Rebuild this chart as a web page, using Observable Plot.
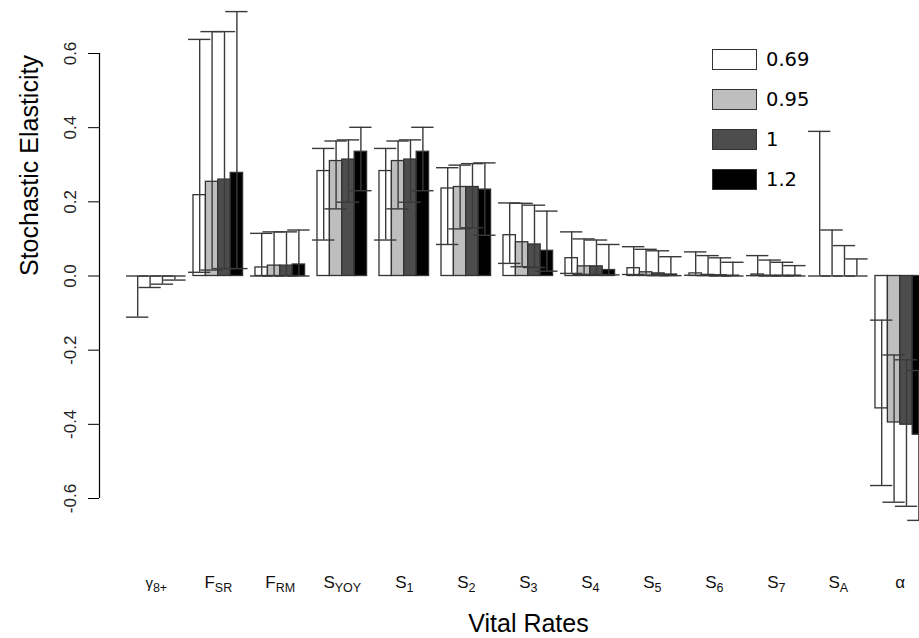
<!DOCTYPE html>
<html><head><meta charset="utf-8">
<script src="https://cdn.jsdelivr.net/npm/d3@7"></script>
<script src="https://cdn.jsdelivr.net/npm/@observablehq/plot@0.6"></script>
<style>
html,body{margin:0;padding:0;background:#fff;overflow:hidden;}
#wrap{position:relative;width:919px;height:638px;}
#wrap svg{display:block;}
.legend{position:absolute;left:712px;top:49px;font-family:"DejaVu Sans",Verdana,sans-serif;font-size:19.5px;color:#000;}
.legend .row{position:relative;height:40px;width:110px;}
.legend .sw{position:absolute;left:0;top:0;width:43px;height:19px;border:1px solid #333;box-sizing:content-box;}
.legend .lab{position:absolute;left:54px;top:1px;line-height:20px;white-space:nowrap;}
</style></head><body><div id="wrap"></div>
<script>
// Categories (main symbol + subscript)
const catMain = ["γ","F","F","S","S","S","S","S","S","S","S","S","α"];
const catSub  = ["8+","SR","RM","YOY","1","2","3","4","5","6","7","A",""];
// Series (legend labels)
const seriesNames = ["0.69","0.95","1","1.2"];
// Bar values per series
const val069 = [0.000, 0.218, 0.023, 0.283, 0.283, 0.236, 0.110, 0.048, 0.021, 0.007, 0.004, 0.000, -0.357];
const val095 = [0.000, 0.254, 0.028, 0.310, 0.310, 0.240, 0.091, 0.026, 0.010, 0.003, 0.001, 0.000, -0.395];
const val100 = [0.000, 0.260, 0.028, 0.314, 0.314, 0.240, 0.085, 0.026, 0.007, 0.002, 0.001, 0.000, -0.401];
const val120 = [0.000, 0.278, 0.031, 0.335, 0.335, 0.233, 0.068, 0.016, 0.004, 0.001, 0.001, 0.000, -0.428];
// Upper error limits
const hi069 = [0.000, 0.638, 0.115, 0.344, 0.344, 0.292, 0.197, 0.119, 0.079, 0.065, 0.055, 0.390, -0.119];
const hi095 = [0.000, 0.659, 0.119, 0.364, 0.364, 0.299, 0.196, 0.100, 0.072, 0.055, 0.043, 0.124, -0.213];
const hi100 = [0.000, 0.659, 0.119, 0.367, 0.367, 0.303, 0.191, 0.097, 0.068, 0.049, 0.037, 0.082, -0.226];
const hi120 = [0.000, 0.713, 0.124, 0.401, 0.401, 0.305, 0.175, 0.085, 0.052, 0.037, 0.028, 0.046, -0.255];
// Lower error limits
const lo069 = [-0.111, 0.010, 0.000, 0.097, 0.097, 0.085, 0.034, 0.007, 0.004, 0.002, 0.001, 0.000, -0.565];
const lo095 = [-0.031, 0.016, 0.000, 0.181, 0.181, 0.127, 0.025, 0.004, 0.002, 0.001, 0.000, 0.000, -0.610];
const lo100 = [-0.022, 0.020, 0.000, 0.199, 0.199, 0.130, 0.023, 0.004, 0.001, 0.000, 0.000, 0.000, -0.621];
const lo120 = [-0.011, 0.020, 0.000, 0.230, 0.230, 0.110, 0.013, 0.003, 0.001, 0.000, 0.000, 0.000, -0.659];
// Y tick values
const yTicks = [-0.6, -0.4, -0.2, 0.0, 0.2, 0.4, 0.6];

const seriesFill = ["#ffffff", "#bebebe", "#4d4d4d", "#000000"];
const vals = [val069, val095, val100, val120];
const his = [hi069, hi095, hi100, hi120];
const los = [lo069, lo095, lo100, lo120];

// R-style barplot layout in bar-width units: space 1 before each group of 4
const rows = [];
catMain.forEach((m, i) => {
  seriesNames.forEach((s, j) => {
    const x1 = 1 + 5 * i + j;
    rows.push({i, series: s, value: vals[j][i], hi: his[j][i], lo: los[j][i], x1, x2: x1 + 1, xc: x1 + 0.5});
  });
});
const centers = catMain.map((m, i) => 3 + 5 * i);
const capHalf = 0.9;
const xDomain = [-1.58, 64.55];

const plot = Plot.plot({
  width: 919,
  height: 638,
  marginLeft: 99,
  marginRight: 0,
  marginTop: 53,
  marginBottom: 140,
  style: {fontFamily: "'Liberation Sans', Arial, sans-serif", background: "#fff", color: "#000"},
  x: {type: "linear", domain: xDomain},
  y: {domain: [-0.6, 0.6]},
  color: {domain: seriesNames, range: seriesFill},
  marks: [
    Plot.rectY(rows, {x1: "x1", x2: "x2", y1: 0, y2: "value", fill: "series", stroke: "#333", strokeWidth: 1.3}),
    Plot.ruleX(rows, {x: "xc", y1: "lo", y2: "hi", stroke: "#3a3a3a", strokeWidth: 1.4}),
    Plot.ruleY(rows, {y: "hi", x1: d => d.xc - capHalf, x2: d => d.xc + capHalf, stroke: "#3a3a3a", strokeWidth: 1.4}),
    Plot.ruleY(rows, {y: "lo", x1: d => d.xc - capHalf, x2: d => d.xc + capHalf, stroke: "#3a3a3a", strokeWidth: 1.4}),
    Plot.ruleX([xDomain[0]], {y1: d3.min(yTicks), y2: d3.max(yTicks), stroke: "#000", strokeWidth: 1.2}),
    Plot.axisY({ticks: yTicks, tickSize: 11, tickRotate: -90, tickPadding: 13, tickFormat: d => d.toFixed(1), fontSize: 17, fill: "#222", label: null}),
    Plot.axisX({ticks: centers, tickSize: 0, tickPadding: 77, tickFormat: d => String((d - 3) / 5), fontSize: 17, fill: "#111", label: null}),
    Plot.text(["Vital Rates"], {frameAnchor: "bottom", dy: 133, dx: 19, fontSize: 25, fill: "#000"}),
    Plot.text(["Stochastic Elasticity"], {frameAnchor: "left", dx: -70, rotate: -90, fontSize: 25, fill: "#000"})
  ]
});

// Rebuild the x tick labels with subscripts
plot.querySelectorAll('g[aria-label="x-axis tick label"] text').forEach(t => {
  const i = +t.textContent;
  if (!Number.isFinite(i)) return;
  t.textContent = "";
  const ns = "http://www.w3.org/2000/svg";
  const a = document.createElementNS(ns, "tspan");
  a.textContent = catMain[i];
  if (i === 0) a.setAttribute("font-size", "15");
  t.appendChild(a);
  if (catSub[i]) {
    const b = document.createElementNS(ns, "tspan");
    b.textContent = catSub[i];
    b.setAttribute("font-size", "12.5");
    b.setAttribute("dy", "4");
    t.appendChild(b);
  }
});

const wrap = document.getElementById("wrap");
wrap.appendChild(plot);

// Legend
const legend = document.createElement("div");
legend.className = "legend";
seriesNames.forEach((s, j) => {
  const row = document.createElement("div");
  row.className = "row";
  const sw = document.createElement("div");
  sw.className = "sw";
  sw.style.background = seriesFill[j];
  const lab = document.createElement("div");
  lab.className = "lab";
  lab.textContent = s;
  row.appendChild(sw);
  row.appendChild(lab);
  legend.appendChild(row);
});
wrap.appendChild(legend);
</script>
</body></html>
